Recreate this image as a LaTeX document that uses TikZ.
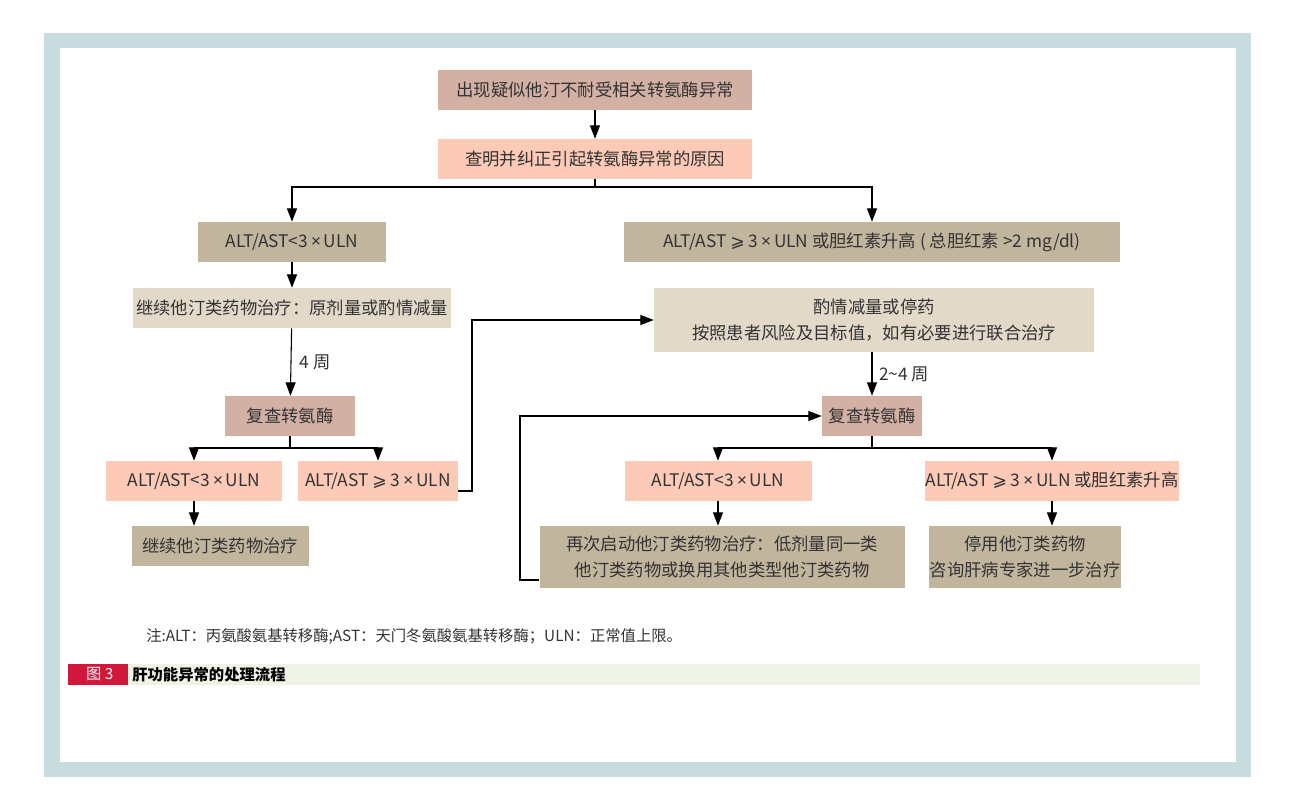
\documentclass[tikz,border=0pt]{standalone}
\usepackage{fontspec}
\setmainfont{Noto Sans CJK SC}
\newfontfamily\latf{Noto Sans}
\newfontfamily\symf{DejaVu Sans}
\newcommand{\tms}{\,{\latf ×}\,}
\newcommand{\geqs}{{\symf ⩾}}
\usetikzlibrary{arrows.meta}
\definecolor{rose}{HTML}{D3B0A4}
\definecolor{salmon}{HTML}{FCCAB6}
\definecolor{taupe}{HTML}{C2B59E}
\definecolor{beige}{HTML}{E2D9C9}
\definecolor{frame}{HTML}{C8DCDF}
\definecolor{gbar}{HTML}{EEF3E6}
\definecolor{cred}{HTML}{D2183A}
\begin{document}
\begin{tikzpicture}[x=0.75pt,y=-0.75pt,
 bx/.style={inner sep=0pt,align=center,font=\fontsize{13}{20}\selectfont,text=black!80},
 sz/.style 2 args={minimum width=0.75*#1pt,minimum height=0.75*#2pt},
 ar/.style={-{Triangle[length=10pt,width=7.5pt]},line width=0.8pt},
 ln/.style={line width=0.8pt}]
\useasboundingbox (0,0) rectangle (1296,809);
\fill[frame] (44,33) rectangle (1251,777);
\fill[white] (60,48) rectangle (1236,762);
\node[bx,fill=rose,sz={314}{40}] (n1) at (595,90) {出现疑似他汀不耐受相关转氨酶异常};
\node[bx,fill=salmon,sz={314}{40}] (n2) at (595,159) {查明并纠正引起转氨酶异常的原因};
\node[bx,fill=taupe,sz={188}{40}] (n3) at (292,242) {ALT/AST<3\tms ULN};
\node[bx,fill=taupe,sz={496}{40}] (n4) at (872,242) {ALT/AST \geqs\ 3\tms ULN 或胆红素升高 ( 总胆红素 >2 mg/dl)};
\node[bx,fill=beige,sz={318}{40}] (n5) at (292,308) {继续他汀类药物治疗：原剂量或酌情减量};
\node[bx,fill=beige,sz={440}{64}] (n6) at (874,320) {酌情减量或停药\\按照患者风险及目标值，如有必要进行联合治疗};
\node[bx,fill=rose,sz={130}{40}] (n7) at (290,416) {复查转氨酶};
\node[bx,fill=rose,sz={100}{40}] (n8) at (872,416) {复查转氨酶};
\node[bx,fill=salmon,sz={176}{40}] (n9) at (194,481) {ALT/AST<3\tms ULN};
\node[bx,fill=salmon,sz={160}{40}] (n10) at (378,481) {ALT/AST \geqs\ 3\tms ULN};
\node[bx,fill=salmon,sz={187}{40}] (n11) at (718,481) {ALT/AST<3\tms ULN};
\node[bx,fill=salmon,sz={228}{40}] (n12) at (1052,481) {ALT/AST \geqs\ 3\tms ULN 或胆红素升高};
\node[bx,fill=taupe,sz={177}{40}] (n13) at (220,546) {继续他汀类药物治疗};
\node[bx,fill=taupe,sz={365}{62}] (n14) at (722,557) {再次启动他汀类药物治疗：低剂量同一类\\他汀类药物或换用其他类型他汀类药物};
\node[bx,fill=taupe,sz={192}{62}] (n15) at (1025,557) {停用他汀类药物\\咨询肝病专家进一步治疗};
% connectors
\draw[ar] (n1) -- (n2);
\coordinate (s1) at (595,187);
\draw[ln] (n2.south) -- (s1);
\draw[ar] (s1) -| (n3.north);
\draw[ar] (s1) -| (n4.north);
\draw[ar] (n3) -- (n5);
\draw[ar] (n5) -- node[right,bx,xshift=6pt]{4 周} (n7);
\coordinate (s2) at (290,448);
\draw[ln] (n7.south) -- (s2);
\draw[ar] (s2) -| (n9.north);
\draw[ar] (s2) -| (n10.north);
\coordinate (c1) at (472,491);
\draw[ar] (n10.east |- c1) -- (c1) |- (n6.west);
\draw[ar] (n6.south -| n8) -- node[right,bx,xshift=5pt]{2\textasciitilde4 周} (n8);
\coordinate (s3) at (872,448);
\draw[ln] (n8.south) -- (s3);
\draw[ar] (s3) -| (n11.north);
\draw[ar] (s3) -| (n12.north);
\draw[ar] (n9.south) -- (n9.south |- n13.north);
\draw[ar] (n11.south) -- (n11.south |- n14.north);
\draw[ar] (n12.south) -- (n12.south |- n15.north);
\coordinate (c2) at (520,580);
\draw[ar] (n14.west |- c2) -- (c2) |- (n8.west);
% note and caption
\node[anchor=west,bx,font=\fontsize{11.5}{13}\selectfont] (note) at (146,636) {注:ALT：丙氨酸氨基转移酶;AST：天门冬氨酸氨基转移酶；ULN：正常值上限。};
\fill[gbar] (128,664) rectangle (1200,685);
\node[fill=cred,sz={60}{21},inner sep=0pt,text=white,font=\fontsize{11.5}{13}\selectfont] (fig) at (98,674.5) {\ 图 3};
\node[anchor=west,inner sep=0pt,font=\fontsize{11.5}{13}\selectfont\bfseries] (cap) at (132,674.5) {肝功能异常的处理流程};
\end{tikzpicture}
\end{document}
